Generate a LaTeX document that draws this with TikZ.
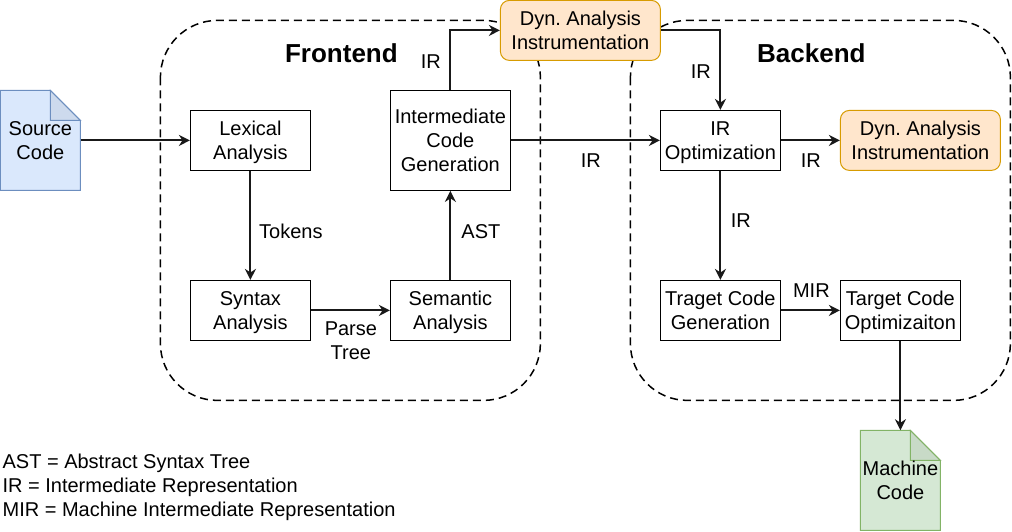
\documentclass[tikz,border=0pt]{standalone}
\usepackage{fontspec}
\setmainfont{Liberation Sans}
\usetikzlibrary{arrows.meta,positioning}
\definecolor{dynfill}{HTML}{FFE6CC}
\definecolor{dynline}{HTML}{D79B00}
\definecolor{srcfill}{HTML}{DAE8FC}
\definecolor{srcline}{HTML}{6C8EBF}
\definecolor{binfill}{HTML}{D5E8D4}
\definecolor{binline}{HTML}{82B366}
\frenchspacing

\begin{document}
\begin{tikzpicture}[x=1pt, y=-1pt, >={Stealth[length=11pt,width=11pt]},
  every node/.style={font=\fontsize{20}{24}\selectfont, align=center, inner sep=0pt, text height=14pt, text depth=0pt},
  lines/.style={text height=38pt},
  stage/.style={lines, draw, line width=1pt, fill=white, minimum width=120pt, minimum height=60pt},
  dyn/.style={lines, draw=dynline, line width=1pt, fill=dynfill, rounded corners=9pt, minimum width=160pt, minimum height=60pt},
  doc/.style={lines, minimum width=80pt, minimum height=100pt},
  region/.style={draw, line width=1.5pt, dash pattern=on 8pt off 5pt, rounded corners=57pt},
  title/.style={font=\fontsize{26}{30}\selectfont\bfseries},
  flow/.style={->, line width=2pt, draw=black!90}]
  \useasboundingbox (-0.4,-0.4) rectangle (1011.6,530.6);

  % dashed regions
  \draw[region] (160,20) rectangle (540,400);
  \draw[region] (630,20) rectangle (1010,400);
  \node[title] (front) at (341,55) {Frontend};
  \node[title] (back) at (811,55) {Backend};

  % input and output files
  \draw[fill=srcfill, draw=srcline, line width=1pt] (0,90) -- (50,90) -- (80,120) -- (80,190) -- (0,190) -- cycle;
  \draw[fill=black, fill opacity=0.06, draw=srcline, line width=1pt] (50,90) -- (50,120) -- (80,120) -- cycle;
  \node[doc] (src) at (40,140) {Source\\Code};
  \draw[fill=binfill, draw=binline, line width=1pt] (860,430) -- (910,430) -- (940,460) -- (940,530) -- (860,530) -- cycle;
  \draw[fill=black, fill opacity=0.06, draw=binline, line width=1pt] (910,430) -- (910,460) -- (940,460) -- cycle;
  \node[doc] (bin) at (900,480) {Machine\\Code};

  \node[stage] (lex) at (250,140) {Lexical\\Analysis};
  \node[stage] (syn) at (250,310) {Syntax\\Analysis};
  \node[stage] (sem) at (450,310) {Semantic\\Analysis};
  \node[stage, minimum height=100pt, text height=62pt] (icg) at (450,140) {Intermediate\\Code\\Generation};
  \node[dyn] (dyna) at (580,30) {Dyn. Analysis\\Instrumentation};
  \node[stage] (opt) at (720,140) {IR\\Optimization};
  \node[dyn] (dynb) at (920,140) {Dyn. Analysis\\Instrumentation};
  \node[stage] (gen) at (720,310) {Traget Code\\Generation};
  \node[stage] (tgt) at (900,310) {Target Code\\Optimizaiton};

  \draw[flow] (src.east) -- (lex.west);
  \draw[flow] (lex.south) -- (syn.north);
  \draw[flow] (syn.east) -- (sem.west);
  \draw[flow] (sem.north) -- (icg.south);
  \draw[flow] (icg.north) |- (dyna.west);
  \draw[flow] (icg.east) -- (opt.west);
  \draw[flow] (dyna.east) -| (opt.north);
  \draw[flow] (opt.east) -- (dynb.west);
  \draw[flow] (opt.south) -- (gen.north);
  \draw[flow] (gen.east) -- (tgt.west);
  \draw[flow] (tgt.south) -- (bin.north);

  % edge labels
  \node (tokens) at (290.5,231) {Tokens};
  \node[lines] (parse) at (350.5,340) {Parse\\Tree};
  \node (ast) at (480.5,231) {AST};
  \node (iru) at (430.5,61) {IR};
  \node (irm) at (590.5,160) {IR};
  \node (ird) at (700.5,71) {IR};
  \node (irr) at (810.5,160) {IR};
  \node (irg) at (740.5,220) {IR};
  \node (mir) at (811,290) {MIR};

  % legend
  \node[anchor=west] (astkey) at (2,461) {AST = Abstract Syntax Tree};
  \node[anchor=west] (irkey) at (2,485) {IR = Intermediate Representation};
  \node[anchor=west] (mirkey) at (2,509) {MIR = Machine Intermediate Representation};
\end{tikzpicture}
\end{document}
